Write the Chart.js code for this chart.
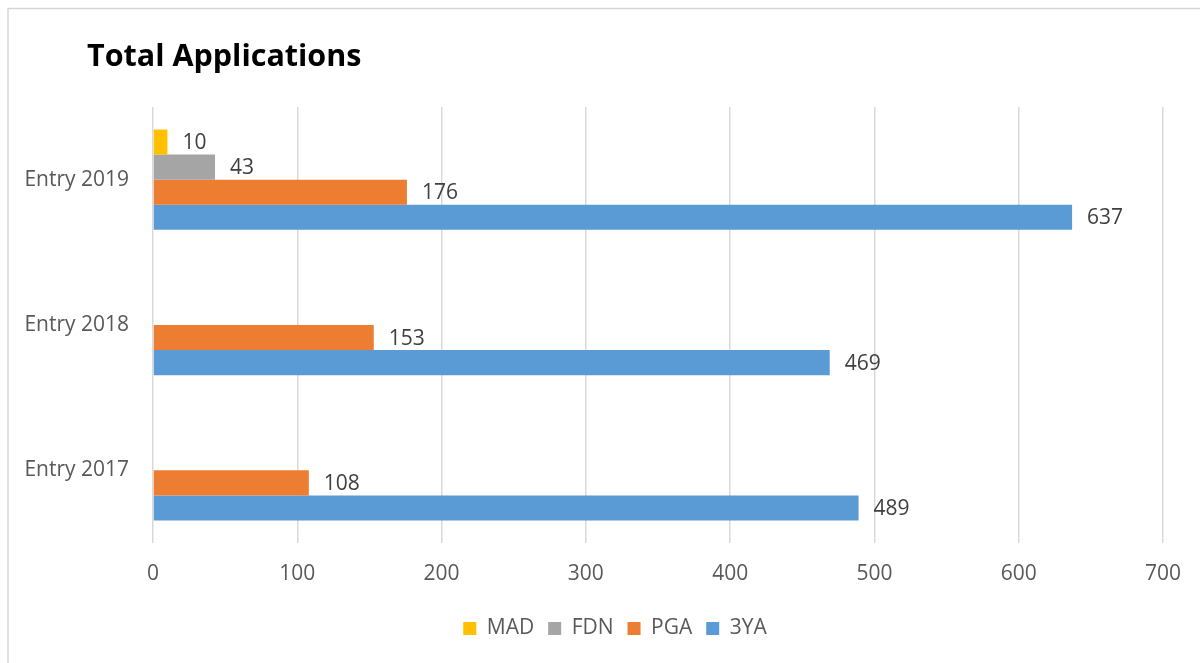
<!DOCTYPE html>
<html>
<head>
<meta charset="utf-8">
<style>
  html, body { margin: 0; padding: 0; background: #ffffff; }
  canvas { display: block; }
</style>
<script src="https://cdn.jsdelivr.net/npm/chart.js@4/dist/chart.umd.min.js"></script>
</head>
<body>
<canvas id="chart" width="1200" height="663"></canvas>
<script>
// Application counts per entry year
const categories = ['Entry 2019', 'Entry 2018', 'Entry 2017'];
const seriesNames = ['MAD', 'FDN', 'PGA', '3YA'];
const madValues = [10, null, null];
const fdnValues = [43, null, null];
const pgaValues = [176, 153, 108];
const threeYaValues = [637, 469, 489];
const xTickValues = [0, 100, 200, 300, 400, 500, 600, 700];

const seriesColors = ['#FFC000', '#A5A5A5', '#ED7D31', '#5B9BD5'];
const seriesValues = [madValues, fdnValues, pgaValues, threeYaValues];

const FONT = "'Open Sans', 'DejaVu Sans', sans-serif";
const TEXT_SIZE = 21;

// Outer frame and heading
const framePlugin = {
  id: 'frame',
  afterLayout(chart) {
    // keep the legend row centred under the plot area
    const lg = chart.legend;
    if (lg) { lg.left += 47; lg.top += 1; lg.bottom += 1; }
  },
  beforeDraw(chart) {
    const ctx = chart.ctx;
    ctx.save();
    ctx.fillStyle = '#ffffff';
    ctx.fillRect(0, 0, chart.width, chart.height);
    ctx.strokeStyle = '#D6D6D6';
    ctx.lineWidth = 1.5;
    ctx.strokeRect(8, 8.5, 1400, 1400);
    ctx.fillStyle = '#000000';
    ctx.font = 'bold 30.5px ' + FONT;
    ctx.textBaseline = 'alphabetic';
    ctx.textAlign = 'left';
    ctx.fillText('Total Applications', 87, 66);
    ctx.restore();
  }
};

// Value labels at the end of each bar
const valueLabelPlugin = {
  id: 'valueLabels',
  afterDatasetsDraw(chart) {
    const ctx = chart.ctx;
    ctx.save();
    ctx.font = TEXT_SIZE + 'px ' + FONT;
    ctx.fillStyle = '#404040';
    ctx.textAlign = 'left';
    ctx.textBaseline = 'middle';
    chart.data.datasets.forEach((ds, di) => {
      const meta = chart.getDatasetMeta(di);
      meta.data.forEach((bar, i) => {
        const v = ds.data[i];
        if (v === null || v === undefined) return;
        ctx.fillText(String(v), bar.x + 15, bar.y + 1);
      });
    });
    ctx.restore();
  }
};

const datasets = seriesNames.map((name, k) => ({
  label: name,
  data: seriesValues[k],
  backgroundColor: seriesColors[k],
  borderWidth: 0,
  barPercentage: 1,
  categoryPercentage: 0.69
}));

new Chart(document.getElementById('chart'), {
  type: 'bar',
  data: { labels: categories, datasets },
  plugins: [framePlugin, valueLabelPlugin],
  options: {
    indexAxis: 'y',
    responsive: false,
    animation: false,
    devicePixelRatio: 1,
    layout: { padding: { left: 20, right: 37, top: 107, bottom: 15 } },
    scales: {
      x: {
        min: xTickValues[0],
        max: xTickValues[xTickValues.length - 1],
        afterBuildTicks(scale) {
          scale.ticks = xTickValues.map(v => ({ value: v }));
        },
        afterFit(scale) { scale.height = 60; },
        grid: { color: '#D9D9D9', lineWidth: 1.5, drawTicks: false },
        border: { display: false },
        ticks: {
          padding: 18,
          color: '#595959',
          font: { family: FONT, size: TEXT_SIZE }
        }
      },
      y: {
        afterFit(scale) { scale.width = 133; },
        grid: { display: false, drawTicks: false },
        border: { display: false },
        ticks: {
          padding: 24,
          color: '#595959',
          font: { family: FONT, size: TEXT_SIZE }
        }
      }
    },
    plugins: {
      title: { display: false },
      tooltip: { enabled: false },
      legend: {
        position: 'bottom',
        labels: {
          boxWidth: 13,
          boxHeight: 13,
          padding: 14,
          color: '#595959',
          font: { family: FONT, size: TEXT_SIZE }
        }
      }
    }
  }
});
</script>
</body>
</html>
